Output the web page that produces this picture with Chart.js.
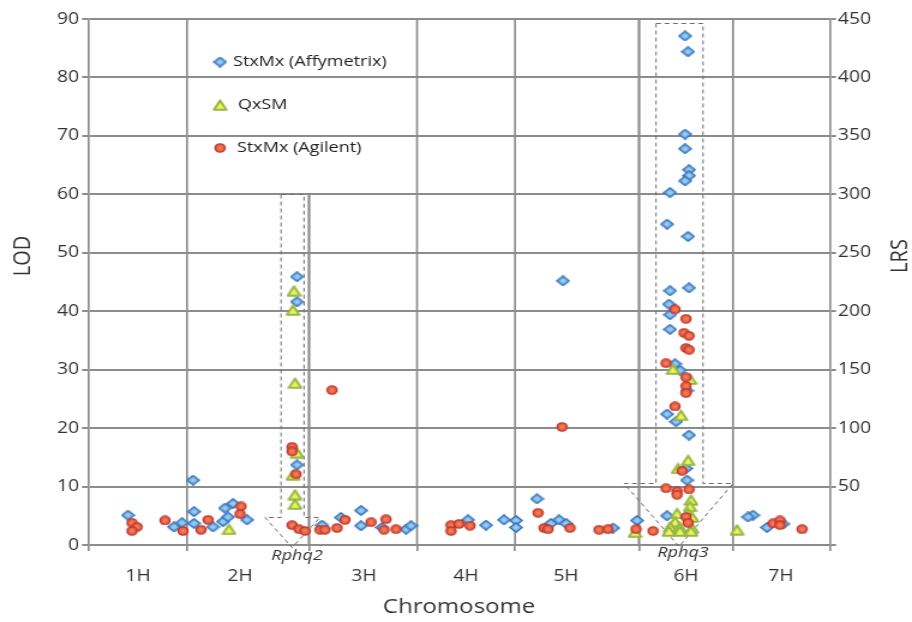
<!DOCTYPE html>
<html><head><meta charset="utf-8">
<script src="https://cdn.jsdelivr.net/npm/chart.js@4.4.1/dist/chart.umd.min.js"></script>
<style>
html,body{margin:0;padding:0;background:#fff;overflow:hidden}
#wrap{width:760px;height:622px;transform:scaleX(1.2);transform-origin:0 0}
</style>
</head><body><div id="wrap"><canvas id="c" width="760" height="622"></canvas></div>
<script>
// ---- data ----
const chromosomes = ['1H','2H','3H','4H','5H','6H','7H'];
const chromLabelPos = [50,152,276,378,478,598,693];
const chromBounds = [0,99,221,329,427,551,645,742];
const boundTop = [90,90,60,90,90,90,90,90];
const seriesNames = ['StxMx (Affymetrix)','QxSM','StxMx (Agilent)'];

const affyX = [40,86,94, 105,106,106,125,135,137,140,145,159, 209,209,209,
  234,253,273,273,294,318,323, 380,398,416, 428,428,449,463,471,478,475,525,549,
  597,600,597,597,601,601,597,582,579,600,582,601,581,582,582,587,592,599,579,588,601,598,599,579,
  665,660,679,695];
const affyY = [5.1,3.1,3.8, 11.1,5.7,3.7,3.1,4.0,6.3,4.8,7.1,4.3, 45.9,41.6,13.7,
  3.4,4.7,5.9,3.3,3.0,2.7,3.3, 4.3,3.4,4.3, 4.2,3.0,7.9,3.7,4.3,3.7,45.2,2.9,4.2,
  87.1,84.4,70.3,67.8,64.2,63.2,62.3,60.3,54.9,52.8,43.5,44.0,41.2,39.4,36.9,31.0,29.9,26.4,22.4,21.1,18.8,13.1,11.1,5.0,
  5.1,4.8,3.0,3.6];

const qxX = [141, 206,205,207,209,205,207,207, 547,
  585,602,593,600,590,603,602,600,589,604,587,582,592,604,581,592,603, 649];
const qxY = [2.7, 43.5,40.2,27.7,15.8,12.0,8.6,7.0, 2.2,
  30.1,28.4,22.2,14.5,13.1,7.7,6.6,5.4,5.4,4.8,4.0,3.1,3.0,2.9,2.4,2.4,2.4, 2.6];

const agiX = [44,49,44,77,95, 113,120,153,152, 204,204,208,204,211,217,
  232,237,249,257,244,283,298,296,308, 363,363,371,382,
  450,456,460,482,474,511,520,
  548,565,587,598,596,601,598,601,578,598,598,598,587,594,578,589,589,601,598,600,
  685,692,692,714];
const agiY = [3.8,3.1,2.4,4.2,2.4, 2.6,4.3,6.6,5.3, 16.8,16.0,12.1,3.4,2.7,2.4,
  2.6,2.6,2.9,4.3,26.5,3.9,4.4,2.6,2.7, 3.4,2.4,3.6,3.3,
  5.5,2.9,2.7,2.9,20.2,2.6,2.7,
  2.7,2.4,40.3,38.7,36.3,35.8,33.7,33.4,31.1,28.7,27.2,26.0,23.7,12.7,9.7,9.2,8.6,9.5,4.8,3.8,
  3.7,4.2,3.4,2.7];

const qtlNames = ['Rphq2','Rphq3'];

// ---- styles / helpers ----
const S = 1.2; // horizontal stretch applied by CSS
const GRID = '#8c8c8c';
const TXT = '#333333';
const FONT = "'Open Sans', 'Noto Sans', sans-serif";

function mk(w,h,fn){const c=document.createElement('canvas');c.width=w;c.height=h;fn(c.getContext('2d'),w,h);return c;}
const diamondImg = mk(12,11,(g)=>{
  const gr=g.createRadialGradient(6,5.5,0,6,5.5,6);gr.addColorStop(0,'#a4d3f6');gr.addColorStop(1,'#5b9bd5');
  g.beginPath();g.moveTo(6,0.9);g.lineTo(11.1,5.5);g.lineTo(6,10.1);g.lineTo(0.9,5.5);g.closePath();
  g.fillStyle=gr;g.fill();g.lineWidth=1.6;g.lineJoin='round';g.strokeStyle='#3a78c2';g.stroke();
});
const triImg = mk(13,12,(g)=>{
  g.beginPath();g.moveTo(6.5,1.4);g.lineTo(11.7,10.7);g.lineTo(1.3,10.7);g.closePath();
  g.fillStyle='#f2f25a';g.fill();g.lineWidth=2;g.lineJoin='round';g.strokeStyle='#93b844';g.stroke();
});
const circImg = mk(11,10,(g)=>{
  const gr=g.createRadialGradient(5.5,5,0,5.5,5,5);gr.addColorStop(0,'#f58a5e');gr.addColorStop(1,'#de4433');
  g.beginPath();g.arc(5.5,5,4.1,0,Math.PI*2);
  g.fillStyle=gr;g.fill();g.lineWidth=1.4;g.strokeStyle='#c0352a';g.stroke();
});
const pts = (xs,ys)=>xs.map((x,i)=>({x:x,y:ys[i]}));

const overlay = {
  id:'overlay',
  beforeDatasetsDraw(chart){
    const {ctx, scales:{x,y}} = chart;
    ctx.save();
    ctx.strokeStyle = GRID;
    for(let i=1;i<chromBounds.length-1;i++){
      const px = x.getPixelForValue(chromBounds[i]);
      ctx.lineWidth = (i===2||i===5)?2.6/S:2/S;
      ctx.beginPath();ctx.moveTo(px,y.getPixelForValue(0));ctx.lineTo(px,y.getPixelForValue(boundTop[i]));ctx.stroke();
    }
    // QTL block arrows
    const arrows = [
      [[193,60],[193,4.8],[177,4.8],[204,-0.3],[232,4.8],[216,4.8],[216,60]],
      [[568,89.4],[568,10.6],[536,10.6],[591,-0.2],[645,10.6],[615,10.6],[615,89.4]]
    ];
    ctx.setLineDash([4,3]);ctx.lineWidth=1;ctx.strokeStyle='#6e6e6e';
    arrows.forEach(a=>{
      ctx.beginPath();
      a.forEach((p,i)=>{const px=x.getPixelForValue(p[0]),py=Math.round(y.getPixelForValue(p[1]))+0.5; i?ctx.lineTo(px,py):ctx.moveTo(px,py);});
      ctx.closePath();ctx.stroke();
    });
    ctx.restore();
  },
  afterDraw(chart){
    const {ctx, scales:{x,y}} = chart;
    ctx.save();
    // QTL labels
    ctx.font = "italic 15px "+FONT; ctx.fillStyle=TXT; ctx.textAlign='center'; ctx.textBaseline='middle';
    ctx.fillText(qtlNames[0], x.getPixelForValue(209), 556);
    ctx.fillText(qtlNames[1], x.getPixelForValue(595), 553);
    // axis titles
    ctx.font = "20px "+FONT;
    ctx.save();ctx.translate(23/S,256);ctx.rotate(-Math.PI/2);ctx.fillText('LOD',0,0);ctx.restore();
    ctx.save();ctx.translate(900/S,256);ctx.rotate(-Math.PI/2);ctx.fillText('LRS',0,0);ctx.restore();
    // legend
    const imgs=[diamondImg,triImg,circImg];
    const rows=[62,105,148]; const tx=[233,238,237];
    ctx.font = "15px "+FONT; ctx.textAlign='left';
    imgs.forEach((im,i)=>{
      ctx.drawImage(im, 220/S-im.width/2, rows[i]-im.height/2);
      ctx.fillStyle='#222';ctx.fillText(seriesNames[i], tx[i]/S, rows[i]);
    });
    ctx.restore();
  }
};

new Chart(document.getElementById('c'), {
  type:'scatter',
  data:{datasets:[
    {label:seriesNames[0], data:pts(affyX,affyY), pointStyle:diamondImg, order:2},
    {label:seriesNames[1], data:pts(qxX,qxY), pointStyle:triImg, order:1},
    {label:seriesNames[2], data:pts(agiX,agiY), pointStyle:circImg, order:0}
  ]},
  options:{
    responsive:false, animation:false, devicePixelRatio:1,
    layout:{padding:{top:19,left:0,right:0,bottom:0}},
    plugins:{legend:{display:false},tooltip:{enabled:false}},
    scales:{
      x:{
        type:'linear', min:0, max:742,
        afterBuildTicks(s){ s.ticks = chromBounds.concat(chromLabelPos).sort((a,b)=>a-b).map(v=>({value:v})); },
        afterFit(s){ s.height = 77; },
        grid:{drawOnChartArea:false, drawTicks:true, tickLength:6, lineWidth:2/S,
          tickColor:(c)=> (c.tick && chromBounds.includes(c.tick.value)) ? GRID : 'rgba(0,0,0,0)',
          color:(c)=> (c.tick && chromBounds.includes(c.tick.value)) ? GRID : 'rgba(0,0,0,0)'},
        border:{display:false},
        ticks:{autoSkip:false, maxRotation:0, padding:16, color:TXT, font:{family:FONT,size:16},
          callback:(v)=>{const i=chromLabelPos.indexOf(v);return i>=0?chromosomes[i]:'';}},
        title:{display:true, text:'Chromosome', color:TXT, font:{family:FONT,size:20}, padding:{top:0,bottom:3}}
      },
      y:{
        position:'left', min:0, max:90,
        afterFit(s){ s.width = 88/S; },
        grid:{color:GRID, lineWidth:2, tickLength:6/S, tickColor:GRID},
        border:{display:true, color:GRID, width:2/S},
        ticks:{stepSize:10, autoSkip:false, padding:3/S, color:TXT, font:{family:FONT,size:16}}
      },
      y2:{
        position:'right', min:0, max:450,
        afterFit(s){ s.width = 760 - 830/S; },
        grid:{drawOnChartArea:false, tickLength:6/S, color:GRID, lineWidth:2},
        border:{display:true, color:GRID, width:2/S},
        ticks:{stepSize:50, autoSkip:false, padding:2/S, color:TXT, font:{family:FONT,size:16},
          callback:(v)=> v===0 ? '' : v}
      }
    }
  },
  plugins:[overlay]
});
</script></body></html>
